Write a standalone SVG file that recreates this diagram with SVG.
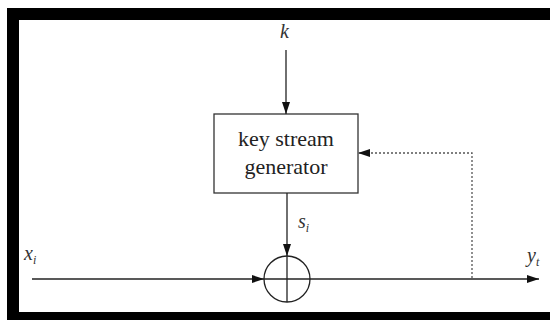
<svg xmlns="http://www.w3.org/2000/svg" width="550" height="320" viewBox="0 0 550 320">
<style>
.ln{stroke:#222;stroke-width:1.3;fill:none}
.dot{stroke:#555;stroke-width:1.3;fill:none;stroke-dasharray:2,2}
.lbl{font-family:'Liberation Serif','DejaVu Serif','Times New Roman',serif;font-style:italic;font-size:20px;fill:#333}
.box{font-family:'Liberation Serif','DejaVu Serif','Times New Roman',serif;font-size:22px;fill:#222;text-anchor:middle}
</style>
<defs>
<marker id="ah" viewBox="0 0 12 8" refX="12" refY="4" markerWidth="12" markerHeight="8" markerUnits="userSpaceOnUse" orient="auto">
<path d="M0,0 L12,4 L0,8 z" fill="#111"/>
</marker>
</defs>
<rect x="0" y="0" width="550" height="320" fill="#fff"/>
<path d="M7,8 H550 V20 H19 V312 H550 V320 H7 Z" fill="#000"/>
<g id="gen">
<rect x="214" y="114" width="144" height="79" fill="#fff" stroke="#333" stroke-width="1.3"/>
<text class="box" x="286" y="146">key stream</text>
<text class="box" x="286" y="174">generator</text>
</g>
<g id="xor">
<circle cx="287" cy="279" r="23" class="ln" stroke-width="1.6"/>
<line x1="264" y1="279" x2="310" y2="279" class="ln"/>
<line x1="287" y1="256" x2="287" y2="302" class="ln"/>
</g>
<g id="labels">
<text class="lbl" x="280" y="38">k</text>
<text class="lbl" x="298" y="228">s<tspan font-size="12" dy="4">i</tspan></text>
<text class="lbl" x="24" y="260">x<tspan font-size="12" dy="4">i</tspan></text>
<text class="lbl" x="527" y="262">y<tspan font-size="12" dy="4">t</tspan></text>
</g>
<g id="connectors">
<line x1="286" y1="50" x2="286" y2="114" class="ln" marker-end="url(#ah)"/>
<line x1="287" y1="193" x2="287" y2="256" class="ln" marker-end="url(#ah)"/>
<line x1="32" y1="279" x2="264" y2="279" class="ln" marker-end="url(#ah)"/>
<line x1="310" y1="279" x2="539" y2="279" class="ln" marker-end="url(#ah)"/>
<polyline points="472,278 472,153 358,153" class="dot" marker-end="url(#ah)"/>
</g>
</svg>
